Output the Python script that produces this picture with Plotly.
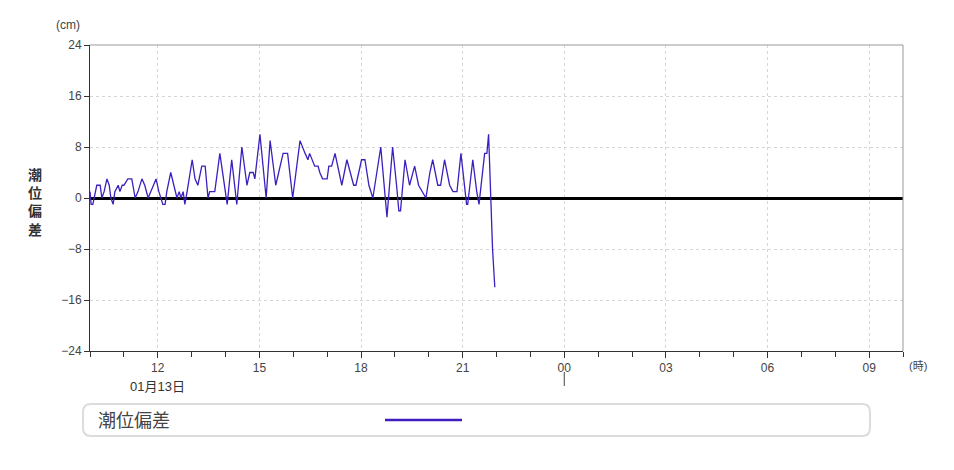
import plotly.graph_objects as go

# ---- data ----
times = ["10:00","10:02","10:05","10:09","10:12","10:18","10:21","10:25","10:30","10:34",
         "10:37","10:41","10:44","10:50","10:53","10:57","11:00","11:07","11:14","11:20",
         "11:25","11:32","11:37","11:43","11:48","11:53","11:57","12:02","12:06","12:09",
         "12:13","12:16","12:23","12:29","12:34","12:38","12:41","12:45","12:48","12:52",
         "13:01","13:06","13:11","13:18","13:24","13:29","13:32","13:41","13:50","14:03",
         "14:11","14:20","14:29","14:38","14:43","14:49","14:52","15:01","15:12","15:19",
         "15:29","15:42","15:50","15:59","16:12","16:21","16:26","16:29","16:33","16:38",
         "16:44","16:47","16:52","17:00","17:03","17:08","17:14","17:26","17:35","17:47",
         "17:51","18:01","18:07","18:14","18:21","18:35","18:46","18:56","19:03","19:07",
         "19:10","19:18","19:26","19:35","19:42","19:49","19:55","20:02","20:07","20:16",
         "20:21","20:28","20:37","20:43","20:50","20:57","21:07","21:09","21:18","21:25",
         "21:29","21:39","21:43","21:46","21:50","21:53","21:57"]
values = [1,-1,-1,1,2,2,0,1,3,2,
          0,-1,1,2,1,2,2,3,3,0,
          1,3,2,0,1,2,3,1,0,-1,
          -1,1,4,2,0,1,0,1,-1,1,
          6,3,2,5,5,0,1,1,7,-1,
          6,-1,8,2,4,4,3,10,0,9,
          2,7,7,0,9,7,6,7,6,5,
          5,4,3,3,5,5,7,2,6,2,
          2,6,6,2,0,8,-3,8,2,-2,
          -2,6,2,5,2,1,0,4,6,2,
          2,6,2,1,1,7,-1,-1,6,1,
          -1,7,7,10,0,-8,-14]
date = "2025-01-13"
x_times = [f"{date} {t}" for t in times]
series_name = "潮位偏差"
y_ticks = [-24, -16, -8, 0, 8, 16, 24]
x_range = ["2025-01-13 10:00", "2025-01-14 10:00"]

LINE = "#3d1fbf"
FONT = "Liberation Sans, Noto Sans CJK JP, sans-serif"

fig = go.Figure()
fig.add_trace(go.Scatter(x=x_times, y=values, mode="lines", name=series_name,
                         line=dict(color=LINE, width=1.3), showlegend=False))

fig.update_layout(
    width=954, height=470,
    margin=dict(l=90, r=51, t=45, b=119),
    paper_bgcolor="white", plot_bgcolor="white",
    font=dict(family=FONT, size=12, color="#444"),
)
fig.update_xaxes(
    type="date", range=x_range,
    dtick=3 * 3600000, tick0="2025-01-13 00:00", tickformat="%H",
    ticks="outside", ticklen=6, tickcolor="#333",
    showline=True, linecolor="#333", linewidth=1,
    showgrid=True, gridcolor="#d6d6d6", griddash="3px,3px", gridwidth=1,
    minor=dict(dtick=3600000, ticks="outside", ticklen=5, tickcolor="#333", showgrid=False),
    tickfont=dict(size=12, color="#444"),
)
fig.update_yaxes(
    range=[-24, 24], tickvals=y_ticks,
    ticks="outside", ticklen=5, tickcolor="#333",
    showline=True, linecolor="#333", linewidth=1,
    showgrid=True, gridcolor="#d6d6d6", griddash="3px,3px", gridwidth=1,
    zeroline=True, zerolinecolor="#000", zerolinewidth=3,
    tickfont=dict(size=12, color="#444"),
)

# top and right frame lines
fig.add_shape(type="line", xref="paper", yref="paper", x0=0, x1=1, y0=1, y1=1,
              line=dict(color="#999", width=1))
fig.add_shape(type="line", xref="paper", yref="paper", x0=1, x1=1, y0=0, y1=1,
              line=dict(color="#999", width=1))

W, H = 813.0, 306.0

def ann(x, y, text, size, color="#444", xanchor="center", xref="paper"):
    fig.add_annotation(x=x, y=y, xref=xref, yref="paper", text=text, showarrow=False,
                       xanchor=xanchor, yanchor="middle",
                       font=dict(size=size, color=color))

# unit labels
ann(-22 / W, 326 / H, "(cm)", 12)
ann(828 / W, -15 / H, "(時)", 11)
# y title stacked vertically
ann(-55 / W, 148 / H, "<b>潮<br>位<br>偏<br>差</b>", 14, "#333")
# date labels
ann("2025-01-13 12:00", -35 / H, "01月13日", 13, "#333", xref="x")
fig.add_shape(type="line", xref="x", yref="paper", x0="2025-01-14 00:00", x1="2025-01-14 00:00",
              y0=-21 / H, y1=-35 / H, line=dict(color="#444", width=1))

# legend box (rounded)
x0, x1 = -7 / W, 780 / W
y0, y1 = -53 / H, -85 / H
rx, ry = 8 / W, 8 / H
path = (f"M {x0+rx},{y0} L {x1-rx},{y0} Q {x1},{y0} {x1},{y0-ry} "
        f"L {x1},{y1+ry} Q {x1},{y1} {x1-rx},{y1} L {x0+rx},{y1} "
        f"Q {x0},{y1} {x0},{y1+ry} L {x0},{y0-ry} Q {x0},{y0} {x0+rx},{y0} Z")
fig.add_shape(type="path", xref="paper", yref="paper", path=path,
              line=dict(color="#dcdcdc", width=2), fillcolor="white")
ann(6 / W, -70 / H, series_name, 18, "#444", xanchor="left")
fig.add_shape(type="line", xref="paper", yref="paper", x0=295 / W, x1=372 / W,
              y0=-69 / H, y1=-69 / H, line=dict(color=LINE, width=2.5))

fig.write_html("out.html")
